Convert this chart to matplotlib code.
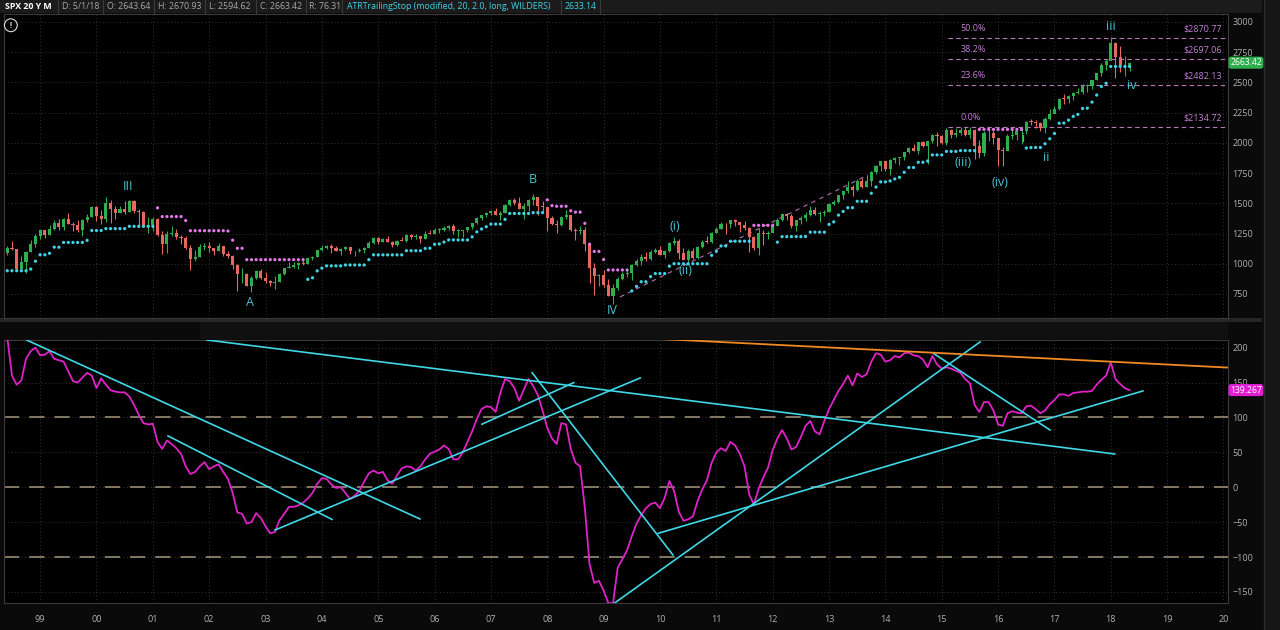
import numpy as np
import pandas as pd
import matplotlib
matplotlib.use("Agg")
import matplotlib.pyplot as plt
from matplotlib.patches import Rectangle
from matplotlib.lines import Line2D

plt.rcParams['font.family'] = ['Open Sans', 'DejaVu Sans']

# SPX monthly bars, May 1998 .. May 2018
first_open = 1111.75
close = [
    1090.82, 1133.84, 1120.67, 957.28, 1017.01, 1098.67, 1163.63, 1229.23,
    1279.64, 1238.33, 1286.37, 1335.18, 1301.84, 1372.71, 1328.72, 1320.41, 1282.71, 1362.93, 1388.91, 1469.25,
    1394.46, 1366.42, 1498.58, 1452.43, 1420.60, 1454.60, 1430.83, 1517.68, 1436.51, 1429.40, 1314.95, 1320.28,
    1366.01, 1239.94, 1160.33, 1249.46, 1255.82, 1224.38, 1211.23, 1133.58, 1040.94, 1059.78, 1139.45, 1148.08,
    1130.20, 1106.73, 1147.39, 1076.92, 1067.14, 989.82, 911.62, 916.07, 815.28, 885.76, 936.31, 879.82,
    855.70, 841.15, 848.18, 916.92, 963.59, 974.50, 990.31, 1008.01, 995.97, 1050.71, 1058.20, 1111.92,
    1131.13, 1144.94, 1126.21, 1107.30, 1120.68, 1140.84, 1101.72, 1104.24, 1114.58, 1130.20, 1173.82, 1211.92,
    1181.27, 1203.60, 1180.59, 1156.85, 1191.50, 1191.33, 1234.18, 1220.33, 1228.81, 1207.01, 1249.48, 1248.29,
    1280.08, 1280.66, 1294.83, 1310.61, 1270.09, 1270.20, 1276.66, 1303.82, 1335.85, 1377.94, 1400.63, 1418.30,
    1438.24, 1406.82, 1420.86, 1482.37, 1530.62, 1503.35, 1455.27, 1473.99, 1526.75, 1549.38, 1481.14, 1468.36,
    1378.55, 1330.63, 1322.70, 1385.59, 1400.38, 1280.00, 1267.38, 1282.83, 1166.36, 968.75, 896.24, 903.25,
    825.88, 735.09, 797.87, 872.81, 919.14, 919.32, 987.48, 1020.62, 1057.08, 1036.19, 1095.63, 1115.10,
    1073.87, 1104.49, 1169.43, 1186.69, 1089.41, 1030.71, 1101.60, 1049.33, 1141.20, 1183.26, 1180.55, 1257.64,
    1286.12, 1327.22, 1325.83, 1363.61, 1345.20, 1320.64, 1292.28, 1218.89, 1131.42, 1253.30, 1246.96, 1257.60,
    1312.41, 1365.68, 1408.47, 1397.91, 1310.33, 1362.16, 1379.32, 1406.58, 1440.67, 1412.16, 1416.18, 1426.19,
    1498.11, 1514.68, 1569.19, 1597.57, 1630.74, 1606.28, 1685.73, 1632.97, 1681.55, 1756.54, 1805.81, 1848.36,
    1782.59, 1859.45, 1872.34, 1883.95, 1923.57, 1960.23, 1930.67, 2003.37, 1972.29, 2018.05, 2067.56, 2058.90,
    1994.99, 2104.50, 2067.89, 2085.51, 2107.39, 2063.11, 2103.84, 1972.18, 1920.03, 2079.36, 2080.41, 2043.94,
    1940.24, 1932.23, 2059.74, 2065.30, 2096.95, 2098.86, 2173.60, 2170.95, 2168.27, 2126.15, 2198.81, 2238.83,
    2278.87, 2363.64, 2362.72, 2384.20, 2411.80, 2423.41, 2470.30, 2471.65, 2519.36, 2575.26, 2647.58, 2673.61,
    2823.81, 2713.83, 2640.87, 2648.05, 2663.42,
]
high = [
    1130, 1145, 1190, 1121, 1066, 1106, 1193, 1244,
    1280, 1282, 1317, 1362, 1368, 1375, 1421, 1346, 1361, 1373, 1410, 1474,
    1478, 1445, 1553, 1528, 1481, 1474, 1517, 1525, 1530, 1454, 1438, 1389,
    1383, 1376, 1267, 1269, 1316, 1287, 1239, 1226, 1155, 1111, 1163, 1173,
    1176, 1131, 1173, 1147, 1107, 1070, 994, 966, 925, 902, 951, 955,
    935, 865, 896, 925, 966, 1015, 1016, 1011, 1040, 1054, 1063, 1112,
    1155, 1158, 1163, 1150, 1128, 1146, 1141, 1109, 1131, 1142, 1188, 1218,
    1217, 1213, 1229, 1192, 1199, 1219, 1246, 1246, 1243, 1233, 1270, 1276,
    1295, 1295, 1310, 1318, 1326, 1284, 1280, 1306, 1340, 1389, 1407, 1431,
    1441, 1461, 1438, 1498, 1535, 1541, 1556, 1503, 1538, 1576, 1552, 1523,
    1471, 1396, 1359, 1397, 1441, 1404, 1292, 1314, 1304, 1168, 1007, 919,
    944, 877, 833, 888, 930, 956, 996, 1039, 1080, 1101, 1113, 1130,
    1150, 1112, 1180, 1220, 1206, 1131, 1120, 1129, 1149, 1196, 1228, 1263,
    1302, 1344, 1333, 1364, 1371, 1345, 1357, 1307, 1230, 1293, 1277, 1269,
    1333, 1378, 1420, 1422, 1415, 1363, 1392, 1427, 1475, 1470, 1434, 1448,
    1504, 1530, 1570, 1598, 1687, 1654, 1698, 1709, 1730, 1765, 1814, 1850,
    1850, 1868, 1884, 1885, 1925, 1968, 1991, 2005, 2019, 2019, 2075, 2093,
    2065, 2119, 2117, 2126, 2135, 2130, 2133, 2113, 2021, 2094, 2116, 2104,
    2038, 1963, 2073, 2111, 2103, 2121, 2178, 2194, 2188, 2170, 2214, 2278,
    2301, 2372, 2401, 2399, 2419, 2454, 2484, 2491, 2520, 2582, 2657, 2695,
    2873, 2836, 2801, 2718, 2670.93,
]
low = [
    1074, 1074, 1114, 940, 939, 923, 1093, 1137,
    1205, 1212, 1234, 1282, 1281, 1281, 1328, 1268, 1263, 1233, 1342, 1387,
    1350, 1325, 1346, 1339, 1369, 1420, 1415, 1430, 1419, 1305, 1308, 1254,
    1274, 1228, 1081, 1091, 1233, 1203, 1165, 1124, 944, 1026, 1054, 1114,
    1101, 1074, 1106, 1063, 1048, 953, 776, 838, 815, 769, 873, 872,
    841, 817, 789, 847, 903, 962, 962, 960, 990, 995, 1031, 1054,
    1105, 1124, 1087, 1107, 1076, 1113, 1078, 1060, 1101, 1090, 1127, 1163,
    1163, 1180, 1176, 1137, 1146, 1188, 1183, 1201, 1205, 1168, 1201, 1246,
    1245, 1253, 1268, 1280, 1245, 1219, 1224, 1265, 1290, 1327, 1360, 1385,
    1403, 1400, 1364, 1416, 1481, 1484, 1455, 1371, 1439, 1489, 1407, 1435,
    1270, 1317, 1257, 1312, 1373, 1272, 1200, 1247, 1107, 840, 741, 815,
    805, 731, 667, 783, 866, 888, 869, 979, 992, 1020, 1029, 1086,
    1071, 1045, 1101, 1157, 1040, 1028, 1011, 1040, 1040, 1131, 1173, 1173,
    1257, 1284, 1249, 1295, 1311, 1259, 1282, 1101, 1115, 1075, 1159, 1203,
    1259, 1310, 1354, 1358, 1292, 1267, 1325, 1354, 1396, 1403, 1343, 1398,
    1426, 1485, 1501, 1536, 1581, 1560, 1605, 1627, 1633, 1647, 1746, 1767,
    1770, 1737, 1834, 1814, 1860, 1915, 1930, 1905, 1964, 1821, 2001, 1973,
    1988, 1981, 2039, 2048, 2067, 2056, 2044, 1867, 1872, 1893, 2019, 1993,
    1812, 1810, 1937, 2034, 2025, 1992, 2074, 2147, 2119, 2098, 2084, 2187,
    2245, 2271, 2322, 2329, 2353, 2405, 2407, 2417, 2446, 2520, 2557, 2605,
    2682, 2533, 2585, 2553, 2594.62,
]
# lower study (one value per month)
cci = [
    230, 215, 160, 147, 153, 184, 195, 200,
    189, 190, 195, 184, 182, 180, 166, 152, 150, 157, 164, 160,
    142, 156, 147, 139, 137, 136, 136, 130, 118, 104, 92, 90,
    91, 65, 55, 67, 62, 56, 48, 30, 19, 22, 30, 36,
    26, 30, 33, 22, 12, -8, -36, -38, -52, -50, -37, -44,
    -56, -66, -64, -47, -38, -28, -28, -26, -22, -16, -8, 5,
    13, 12, 4, -1, 0, -8, -17, -12, -5, 8, 20, 24,
    20, 22, 10, 5, 17, 27, 30, 29, 24, 30, 40, 48,
    51, 54, 60, 55, 40, 40, 50, 65, 80, 98, 112, 116,
    115, 108, 135, 155, 152, 142, 124, 140, 155, 145, 132, 110,
    85, 70, 62, 92, 90, 55, 35, 30, -30, -110, -137, -134,
    -148, -166, -166, -115, -103, -90, -70, -52, -40, -30, -24, -22,
    -30, -15, 9, -5, -35, -48, -46, -42, -20, -3, 10, 35,
    50, 56, 52, 65, 60, 48, 30, -10, -25, -2, 14, 28,
    53, 70, 82, 70, 54, 58, 72, 88, 95, 80, 76, 95,
    112, 125, 138, 148, 160, 146, 163, 158, 162, 180, 192, 190,
    180, 182, 188, 186, 192, 193, 189, 188, 183, 172, 188, 176,
    170, 172, 170, 167, 164, 155, 149, 118, 108, 122, 122, 110,
    90, 88, 106, 109, 107, 106, 116, 117, 112, 106, 110, 119,
    125, 133, 133, 131, 135, 136, 137, 137, 138, 147, 154, 160,
    179, 155, 148, 142, 139.267,
]

years = list(range(1999, 2021))
year_labels = ["%02d" % (y % 100) for y in years]
price_ticks = [750, 1000, 1250, 1500, 1750, 2000, 2250, 2500, 2750, 3000]
study_ticks = [-150, -100, -50, 0, 50, 100, 150, 200]
study_levels = [100, 0, -100]

fib_pct = ["50.0%", "38.2%", "23.6%", "0.0%"]
fib_price = [2870.77, 2697.06, 2482.13, 2134.72]
fib_start = 2015.11

wave_text = ["III", "A", "B", "IV", "(i)", "(ii)", "(iii)", "(iv)", "i", "ii", "iii", "iv"]
wave_t = [2000.56, 2002.72, 2007.75, 2009.15, 2010.27, 2010.46, 2015.38, 2016.04, 2016.46, 2016.86, 2018.0, 2018.38]
wave_p = [1643, 676, 1693, 609, 1312, 940, 1834, 1676, 2040, 1875, 2959, 2471]

channel_t = [2009.29, 2013.69]
channel_p = [725, 1734]

# drawn trend lines on the study: (t1, v1, t2, v2)
cyan_lines = [
    (1998.76, 211.0, 2005.74, -45.4),
    (2001.27, 73.5, 2004.18, -46.1),
    (2001.96, 211.0, 2018.07, 47.7),
    (2003.17, -61.2, 2009.65, 156.6),
    (2006.84, 90.3, 2008.47, 149.9),
    (2007.73, 164.2, 2010.23, -97.0),
    (2009.12, -170.1, 2015.68, 208.2),
    (2009.97, -65.9, 2018.57, 138.0),
    (2014.85, 192.0, 2016.92, 82.1),
]
orange_line = (2008.94, 216.8, 2020.08, 171.5)

header_text = ["SPX 20 Y M", "D: 5/1/18", "O: 2643.64", "H: 2670.93", "L: 2594.62",
               "C: 2663.42", "R: 76.31", "ATRTrailingStop (modified, 20, 2.0, long, WILDERS)", "2633.14"]
header_x = [5, 62, 107, 158, 209, 260, 309, 347, 565]

GREEN = "#2fae4e"
RED = "#e8675e"
CYAN = "#3fd3e3"
MAGENTA = "#df77e6"
GRID = "#333333"
LABEL = "#b0b0b0"

c = np.array(close, float)
h = np.array(high, float)
l = np.array(low, float)
o = np.r_[first_open, c[:-1]]
n = len(c)
t = 1998 + 4 / 12 + np.arange(n) / 12.0

# ATRTrailingStop (modified, 20, 2.0, long, WILDERS)
period, factor = 20, 2.0
rng = h - l
hilo = np.minimum(rng, 1.5 * pd.Series(rng).rolling(period, min_periods=1).mean().values)
tr = hilo.copy()
for i in range(1, n):
    href = h[i] - c[i - 1] if l[i] <= h[i - 1] else (h[i] - c[i - 1]) - 0.5 * (l[i] - h[i - 1])
    lref = c[i - 1] - l[i] if h[i] >= l[i - 1] else (c[i - 1] - l[i]) - 0.5 * (l[i - 1] - h[i])
    tr[i] = max(hilo[i], href, lref)
atr = np.empty(n)
atr[0] = tr[:period].mean()
for i in range(1, n):
    atr[i] = atr[i - 1] + (tr[i] - atr[i - 1]) / period
loss = factor * atr
trail = np.empty(n)
is_long = np.empty(n, bool)
trail[0], is_long[0] = c[0] - loss[0], True
for i in range(1, n):
    if is_long[i - 1]:
        if c[i] > trail[i - 1]:
            is_long[i], trail[i] = True, max(trail[i - 1], c[i] - loss[i])
        else:
            is_long[i], trail[i] = False, c[i] + loss[i]
    else:
        if c[i] < trail[i - 1]:
            is_long[i], trail[i] = False, min(trail[i - 1], c[i] + loss[i])
        else:
            is_long[i], trail[i] = True, c[i] - loss[i]

W, H = 1280, 630
fig = plt.figure(figsize=(12.8, 6.3), dpi=100, facecolor="#0a0a0a")

def fx(px):
    return px / W

def fy(py):
    return 1 - py / H

left, right = 3.5, 1228
ax1 = fig.add_axes([fx(left), fy(318), fx(right - left), fy(14) - fy(318)], facecolor="black")
ax2 = fig.add_axes([fx(left), fy(603), fx(right - left), fy(340) - fy(603)], facecolor="black", sharex=ax1)

xmin, xmax = 1998.35, 2020.08
for ax in (ax1, ax2):
    ax.set_xlim(xmin, xmax)
    ax.set_xticks(years)
    ax.grid(True, color=GRID, lw=0.7, ls=(0, (1, 2.5)))
    ax.set_axisbelow(True)
    ax.yaxis.tick_right()
    ax.tick_params(axis="both", length=0, labelsize=6.5, labelcolor=LABEL, pad=3)
    for s in ax.spines.values():
        s.set_color("#3a3a3a")
        s.set_linewidth(0.8)

# ---- price panel
ax1.set_ylim(551, 3066)
ax1.set_yticks(price_ticks)
ax1.tick_params(axis="x", labelbottom=False)

ax1.plot(channel_t, channel_p, color="#b56fb0", lw=0.8, ls=(0, (4, 4)), zorder=1)

col = np.where(c >= o, GREEN, RED)
ax1.vlines(t, l, h, colors=col, lw=0.8, zorder=3)
body = np.maximum(np.abs(c - o), 6)
ax1.bar(t, body, bottom=np.minimum(o, c), width=0.055, color=col, lw=0, zorder=4)
ax1.scatter(t, trail, s=5.5, c=np.where(is_long, CYAN, MAGENTA), linewidths=0, zorder=5)

for pct, lev in zip(fib_pct, fib_price):
    ax1.hlines(lev, fib_start, xmax, colors="#b979b9", lw=0.8, linestyles=(0, (4, 3)), zorder=2)
    ax1.annotate(pct, xy=(2015.33, lev), xytext=(0, 3), textcoords="offset points",
                 color="#c47fd6", fontsize=6.5, ha="left", va="bottom")
    ax1.annotate("$%.2f" % lev, xy=(2019.98, lev), xytext=(0, 3), textcoords="offset points",
                 color="#c47fd6", fontsize=6.5, ha="right", va="bottom")

for txt, wt, wp in zip(wave_text, wave_t, wave_p):
    ax1.text(wt, wp, txt, color="#45c3d3", fontsize=9, ha="center", va="center", zorder=6)

ax1.text(0.006, 0.963, "!", transform=ax1.transAxes, color="#dddddd", fontsize=5.5,
         ha="center", va="center", fontweight="bold",
         bbox=dict(boxstyle="circle,pad=0.25", fc="none", ec="#dddddd", lw=0.8))

ax1.annotate("%.2f" % c[-1], xy=(1, c[-1]), xycoords=("axes fraction", "data"),
             xytext=(1.5, 0), textcoords="offset points", color="white", fontsize=6.2,
             ha="left", va="center", zorder=10,
             bbox=dict(boxstyle="round,pad=0.18,rounding_size=0.3", fc="#2fae4e", ec="none"))

# ---- study panel
ax2.set_ylim(-165.8, 211)
ax2.set_yticks(study_ticks)
ax2.set_xticklabels(year_labels)
ax2.tick_params(axis="x", pad=9, labelsize=6.5)
for lev in study_levels:
    ax2.axhline(lev, color="#a4977e", lw=1.1, ls=(0, (10, 6.5)), zorder=2)
for x1, y1, x2, y2 in cyan_lines:
    ax2.plot([x1, x2], [y1, y2], color="#3fd8e6", lw=1.2, zorder=5)
ax2.plot([orange_line[0], orange_line[2]], [orange_line[1], orange_line[3]],
         color="#ef8a25", lw=1.3, zorder=5)
ax2.plot(t, cci, color="#e022c8", lw=1.3, zorder=4)
ax2.annotate("%.3f" % cci[-1], xy=(1, cci[-1]), xycoords=("axes fraction", "data"),
             xytext=(1.5, 0), textcoords="offset points", color="white", fontsize=6.2,
             ha="left", va="center", zorder=10,
             bbox=dict(boxstyle="round,pad=0.18,rounding_size=0.3", fc="#e020d0", ec="none"))

# ---- chrome: header strip, separators, right margin (drawn under the axes)
fig.add_artist(Rectangle((0, fy(13)), fx(1262), 13 / H, transform=fig.transFigure,
                         fc="#1b1b1b", ec="none", zorder=-2))
seps = [58, 103, 154, 205, 256, 306, 342, 561, 600]
for sx in seps:
    fig.add_artist(Line2D([fx(sx), fx(sx)], [fy(13), 1], transform=fig.transFigure,
                          color="#3a3a3a", lw=0.8, zorder=-1))
for i, (txt, hx) in enumerate(zip(header_text, header_x)):
    color = "white" if i == 0 else (CYAN if i >= 7 else "#a8a8a8")
    fig.text(fx(hx), fy(6.5), txt, color=color, fontsize=6.3, ha="left", va="center",
             fontweight="bold" if i == 0 else "normal")

fig.add_artist(Rectangle((0, fy(322)), fx(1262), 4 / H, transform=fig.transFigure,
                         fc="#262626", ec="none", zorder=-2))
fig.add_artist(Rectangle((fx(200), fy(339)), fx(1028), 17 / H, transform=fig.transFigure,
                         fc="#101010", ec="none", zorder=-2))
fig.add_artist(Rectangle((fx(1264), 0), fx(16), 1, transform=fig.transFigure,
                         fc="#161616", ec="none", zorder=-2))
fig.add_artist(Line2D([fx(1264), fx(1264)], [0, 1], transform=fig.transFigure,
                      color="#2c2c2c", lw=1, zorder=-1))

fig.savefig("out.png", dpi=100, facecolor=fig.get_facecolor())
